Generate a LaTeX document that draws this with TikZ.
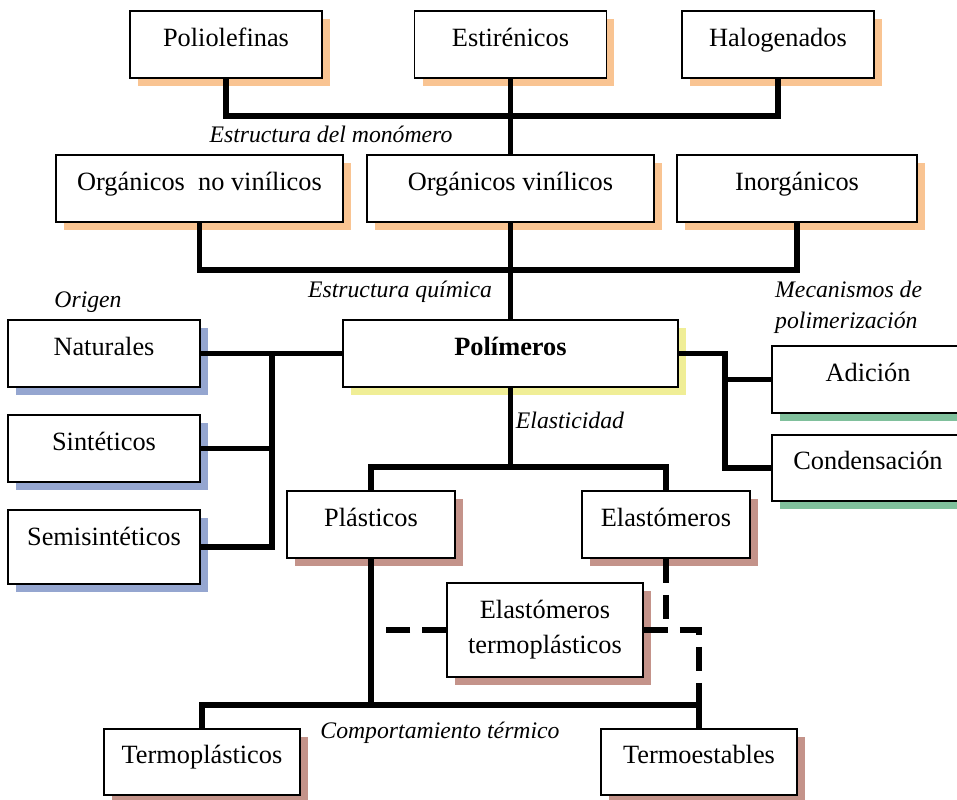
\documentclass[tikz,border=0pt]{standalone}
\usepackage{fontspec}
\setmainfont{Liberation Serif}
\usetikzlibrary{shadows}

\definecolor{peach}{RGB}{249,196,146}
\definecolor{lilac}{RGB}{149,166,208}
\definecolor{lemon}{RGB}{240,238,150}
\definecolor{mint}{RGB}{128,192,156}
\definecolor{rose}{RGB}{196,147,138}

\begin{document}
\begin{tikzpicture}[x=0.02cm, y=-0.02cm,
    boxbase/.style={draw, line width=1.1pt, fill=white, font=\fontsize{15}{20}\selectfont},
    box/.style={boxbase, inner ysep=0pt, text height=20pt, text depth=18pt},
    shd/.style={drop shadow={shadow xshift=.16cm, shadow yshift=-.16cm, fill=#1, opacity=1}},
    tag/.style={font=\fontsize{13.5}{17.6}\selectfont\itshape},
    conn/.style={line width=.11cm},
    dashconn/.style={conn, dash pattern=on .48cm off .24cm}]
    \useasboundingbox (0, 0) rectangle (957, 800);

    \node [box, shd=peach, minimum width=3.84cm] (poli) at (226, 44.5) {Poliolefinas};
    \node [box, shd=peach, minimum width=3.84cm] (esti) at (510.5, 44.5) {Estirénicos};
    \node [box, shd=peach, minimum width=3.84cm] (halo) at (778, 44.5) {Halogenados};
    \node [box, shd=peach, minimum width=5.74cm] (onv) at (199.5, 188.5) {Orgánicos\ \ no vinílicos};
    \node [box, shd=peach, minimum width=5.74cm] (ovin) at (510.5, 188.5) {Orgánicos vinílicos};
    \node [box, shd=peach, minimum width=4.8cm] (ino) at (797, 188.5) {Inorgánicos};
    \node [box, shd=lilac, minimum width=3.84cm] (nat) at (104, 353.5) {Naturales};
    \node [box, shd=lilac, minimum width=3.84cm] (sint) at (104, 448.5) {Sintéticos};
    \node [box, shd=lilac, minimum width=3.84cm, text depth=22pt] (semi) at (104, 547) {Semisintéticos};
    \node [box, shd=lemon, minimum width=6.7cm, font=\fontsize{15}{20}\selectfont\bfseries] (pol) at (510.5, 353.5) {Polímeros};
    \node [box, shd=mint, minimum width=3.84cm] (adi) at (868, 379.5) {Adición};
    \node [box, shd=mint, minimum width=3.84cm] (cond) at (868, 468) {Condensación};
    \node [box, shd=rose, minimum width=3.36cm] (plas) at (371, 524.5) {Plásticos};
    \node [box, shd=rose, minimum width=3.36cm] (elas) at (666, 524.5) {Elastómeros};
    \node [boxbase, shd=rose, minimum width=3.92cm, minimum height=1.88cm, align=center] (etp) at (545, 630) {Elastómeros\\termoplásticos};
    \node [box, shd=rose, minimum width=3.92cm] (tplas) at (202, 762) {Termoplásticos};
    \node [box, shd=rose, minimum width=3.92cm] (test) at (699, 762) {Termoestables};

    \node [tag] (lmono) at (331, 134) {Estructura del monómero};
    \node [tag] (lquim) at (400, 292) {Estructura química};
    \node [tag] (lorig) at (88, 302) {Origen};
    \node [tag, align=left, anchor=west] (lmeca) at (769, 307) {Mecanismos de\\polimerización};
    \node [tag] (lelas) at (570, 420) {Elasticidad};
    \node [tag] (lterm) at (440, 733) {Comportamiento térmico};

    \coordinate (mono) at (510.5, 116);
    \coordinate (quim) at (510.5, 270);
    \coordinate (orig) at (272, 353.5);
    \coordinate (meca) at (725, 353.5);
    \coordinate (elast) at (510.5, 467);
    \coordinate (term) at (371, 705);
    \coordinate (dl) at (383, 630);
    \coordinate (dr) at (699, 630);
    \coordinate (de) at (666, 630);

    \draw [conn] (poli.south) |- (mono) -| (halo.south);
    \draw [conn] (esti.south) -- (ovin.north);
    \draw [conn] (onv.south) |- (quim) -| (ino.south);
    \draw [conn] (ovin.south) -- (pol.north);
    \draw [conn] (pol.west) -- (nat.east);
    \draw [conn] (orig) |- (semi.east);
    \draw [conn] (sint.east) -- (sint.east -| orig);
    \draw [conn] (pol.east) -- (meca) |- (cond.west);
    \draw [conn] (adi.west) -- (adi.west -| meca);
    \draw [conn] (pol.south) -- (elast);
    \draw [conn] (plas.north) |- (elast) -| (elas.north);
    \draw [conn] (plas.south) -- (term);
    \draw [conn] (tplas.north) |- (term) -| (test.north);
    \draw [dashconn] (etp.west) -- (dl);
    \draw [dashconn] (etp.east) -- (dr) -- (dr |- term);
    \draw [dashconn] (elas.south) -- (de);
\end{tikzpicture}
\end{document}
